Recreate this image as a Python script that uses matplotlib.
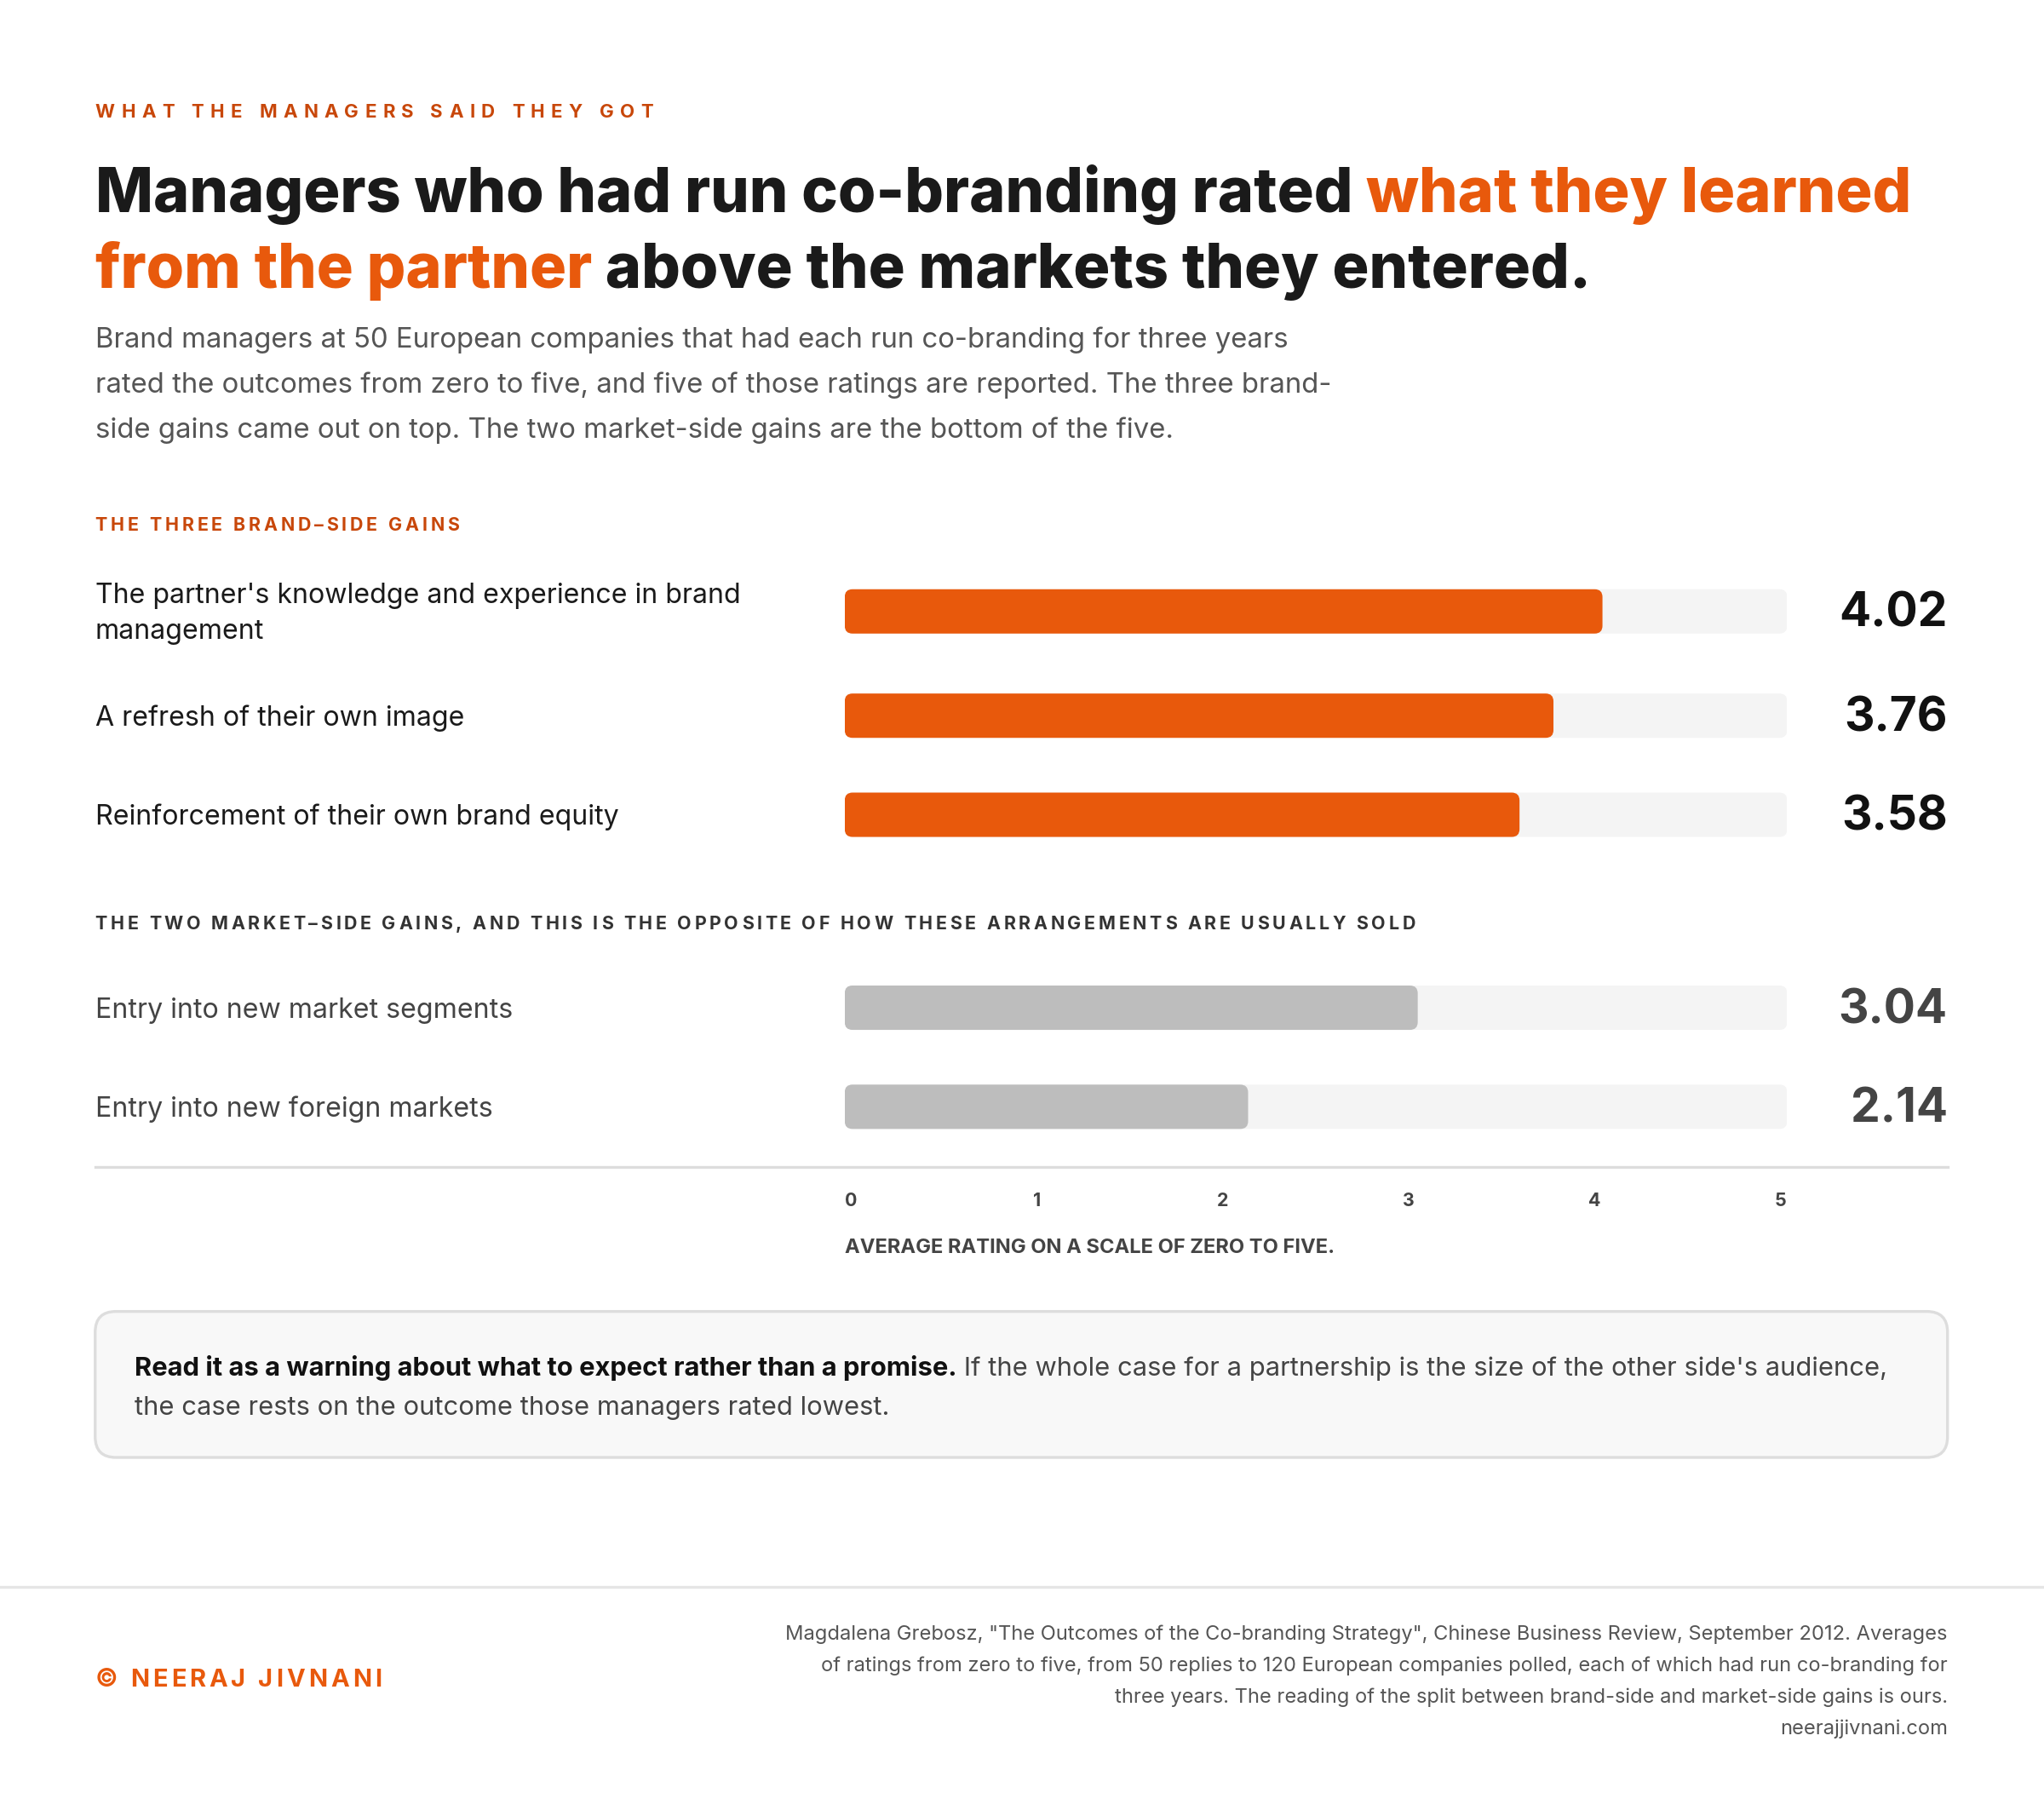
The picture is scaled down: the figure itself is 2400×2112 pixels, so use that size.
import matplotlib.pyplot as plt
from matplotlib.patches import FancyBboxPatch
from matplotlib.lines import Line2D

# ======================================================
# DATA
# ======================================================
brand_labels = ["The partner's knowledge and experience in brand\nmanagement",
                "A refresh of their own image",
                "Reinforcement of their own brand equity"]
brand_values = [4.02, 3.76, 3.58]
market_labels = ["Entry into new market segments", "Entry into new foreign markets"]
market_values = [3.04, 2.14]
ticks = [0, 1, 2, 3, 4, 5]

ORANGE = "#E8590C"
HEAD = "#C8470A"
DARK = "#1a1a1a"
FONT = "Inter"

W, H = 1568, 1380  # layout units (reference px)
fig = plt.figure(figsize=(12, 10.56), dpi=200)
fig.patch.set_facecolor("white")
ax = fig.add_axes([0, 0, 1, 1])
ax.set_xlim(0, W)
ax.set_ylim(H, 0)
ax.axis("off")

PT = 12 * 72 / W  # points per layout px


def t(x, y, s, size, **kw):
    kw.setdefault("family", FONT)
    kw.setdefault("va", "center")
    return ax.text(x, y, s, fontsize=size * PT, **kw)


def chain(x, y, parts, size, **kw):
    prev = None
    for s, color, weight in parts:
        if prev is None:
            prev = ax.text(x, y, s, fontsize=size * PT, color=color, weight=weight,
                           family=FONT, va="baseline", **kw)
        else:
            prev = ax.annotate(s, xy=(1, 0), xycoords=prev, fontsize=size * PT,
                               color=color, weight=weight, family=FONT,
                               va="bottom", ha="left", **kw)
    return prev


def tracked(x, y, s, size, track, color, weight="bold"):
    # letter-spaced caps: place each character after the previous one
    prev = ax.text(x, y, s[0], fontsize=size * PT, color=color, weight=weight,
                   family=FONT, va="center")
    for ch in s[1:]:
        prev = ax.annotate(ch, xy=(1, 0.5), xycoords=prev, xytext=(track * PT, 0),
                           textcoords="offset points", fontsize=size * PT, color=color,
                           weight=weight, family=FONT, va="center", ha="left")
    return prev


# header
tracked(73, 86, "WHAT THE MANAGERS SAID THEY GOT", 14.5, 4.8, HEAD)
chain(73, 163, [("Managers who had run co-branding rated ", DARK, "heavy"),
                ("what they learned", ORANGE, "heavy")], 47)
chain(73, 221, [("from the partner", ORANGE, "heavy"),
                (" above the markets they entered.", DARK, "heavy")], 47)
sub = ["Brand managers at 50 European companies that had each run co-branding for three years",
       "rated the outcomes from zero to five, and five of those ratings are reported. The three brand-",
       "side gains came out on top. The two market-side gains are the bottom of the five."]
for i, line in enumerate(sub):
    t(73, 261 + i * 34.5, line, 21.5, color="#555555")

tracked(73, 403, "THE THREE BRAND–SIDE GAINS", 14, 2.5, HEAD)
tracked(73, 709, "THE TWO MARKET–SIDE GAINS, AND THIS IS THE OPPOSITE OF HOW THESE ARRANGEMENTS ARE USUALLY SOLD",
        14, 2.4, "#333333")

# bars
bx0, bx1 = 648, 1371
bax = fig.add_axes([bx0 / W, 0, (bx1 - bx0) / W, 1])
bax.set_xlim(0, 5)
bax.set_ylim(H, 0)
bax.axis("off")
asp = (bx1 - bx0) / 5.0
BH = 34

rows = [(l, v, ORANGE, DARK, "#111111") for l, v in zip(brand_labels, brand_values)] + \
       [(l, v, "#BDBDBD", "#444444", "#444444") for l, v in zip(market_labels, market_values)]
ys = [469, 549, 625, 773, 849]
for (lab, val, col, lcol, vcol), y in zip(rows, ys):
    for width, c in [(5, "#F4F4F4"), (val, col)]:
        bax.add_patch(FancyBboxPatch((0, y - BH / 2), width, BH,
                                     boxstyle="round,pad=0,rounding_size=%f" % (6 / asp),
                                     mutation_aspect=asp, fc=c, ec="none"))
    t(73, y + 2, lab, 21, color=lcol, linespacing=1.45)
    t(1494, y + 2, f"{val:.2f}", 36, color=vcol, weight="bold", ha="right")

ax.add_line(Line2D([73, 1494], [895, 895], color="#DDDDDD", lw=1.2))
for k in ticks:
    bax.text(k + 0.035 * (1 - 2 * k / 5), 921, str(k), fontsize=14 * PT, family=FONT,
             weight="bold", color="#444444", ha="center", va="center")
t(648, 957, "AVERAGE RATING ON A SCALE OF ZERO TO FIVE.", 15.5, color="#444444", weight="bold")

# callout
ax.add_patch(FancyBboxPatch((73, 1006), 1421, 112, boxstyle="round,pad=0,rounding_size=16",
                            fc="#F8F8F8", ec="#DDDDDD", lw=1.2))
chain(103, 1055, [("Read it as a warning about what to expect rather than a promise.", "#111111", "bold"),
                  (" If the whole case for a partnership is the size of the other side's audience,",
                   "#444444", "normal")], 20.2)
t(103, 1080, "the case rests on the outcome those managers rated lowest.", 20.2, color="#444444")

# footer
ax.add_line(Line2D([0, W], [1217, 1217], color="#E5E5E5", lw=1.2))
tracked(73, 1289, "© NEERAJ JIVNANI", 19, 2.6, ORANGE)
foot = ['Magdalena Grebosz, "The Outcomes of the Co-branding Strategy", Chinese Business Review, September 2012. Averages',
        "of ratings from zero to five, from 50 replies to 120 European companies polled, each of which had run co-branding for",
        "three years. The reading of the split between brand-side and market-side gains is ours.",
        "neerajjivnani.com"]
for i, line in enumerate(foot):
    t(1494, 1254 + i * 24, line, 15.5, color="#555555", ha="right")

fig.savefig("out.png", dpi=200, facecolor="white")
